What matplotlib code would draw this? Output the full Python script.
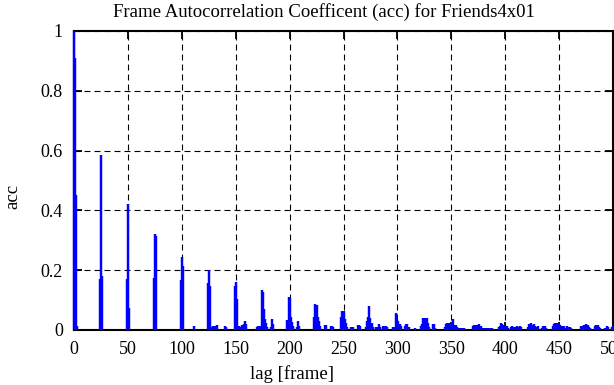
import matplotlib
matplotlib.use("Agg")
import matplotlib.pyplot as plt
import numpy as np

title = "Frame Autocorrelation Coefficent (acc) for Friends4x01"
xlabel = "lag [frame]"
ylabel = "acc"
xticks = [0, 50, 100, 150, 200, 250, 300, 350, 400, 450, 500]
yticks = [0, 0.2, 0.4, 0.6, 0.8, 1.0]
ytick_labels = ["0", "0.2", "0.4", "0.6", "0.8", "1"]

# acc values for lags 0..500, 25 per row
acc = [
    # 0-24
    1.0, 0.91, 0.45, 0.012, 0, 0, 0, 0, 0, 0, 0, 0, 0, 0, 0, 0, 0, 0, 0, 0, 0, 0, 0, 0, 0.17,
    # 25-49
    0.585, 0.18, 0, 0, 0, 0, 0, 0, 0, 0, 0, 0, 0, 0, 0, 0, 0, 0, 0, 0, 0, 0, 0, 0, 0.17,
    # 50-74
    0.42, 0.075, 0, 0, 0, 0, 0, 0, 0, 0, 0, 0, 0, 0, 0, 0, 0, 0, 0, 0, 0, 0, 0, 0, 0.175,
    # 75-99
    0.32, 0.315, 0, 0, 0, 0, 0, 0, 0, 0, 0, 0, 0, 0, 0, 0, 0, 0, 0, 0, 0, 0, 0, 0, 0.167,
    # 100-124
    0.243, 0.214, 0, 0, 0, 0, 0, 0, 0, 0, 0, 0.013, 0, 0, 0, 0, 0, 0, 0, 0, 0, 0, 0, 0, 0.156,
    # 125-149
    0.2, 0.147, 0.005, 0.009, 0.013, 0.009, 0.013, 0.009, 0.017, 0.005, 0, 0, 0, 0, 0, 0.013, 0.01, 0, 0, 0, 0, 0, 0, 0.005, 0.147,
    # 150-174
    0.162, 0.103, 0.009, 0.013, 0.01, 0, 0.017, 0.013, 0.02, 0.031, 0.02, 0, 0, 0, 0, 0, 0, 0, 0, 0.005, 0.01, 0.015, 0.015, 0.015, 0.134,
    # 175-199
    0.128, 0.071, 0.036, 0.025, 0.01, 0, 0, 0, 0.01, 0.036, 0.02, 0, 0, 0, 0, 0, 0, 0, 0, 0, 0, 0, 0, 0.033, 0.111,
    # 200-224
    0.108, 0.045, 0.028, 0.013, 0, 0, 0, 0.01, 0.03, 0.013, 0, 0, 0, 0, 0, 0, 0, 0, 0, 0, 0, 0, 0, 0.045, 0.087,
    # 225-249
    0.085, 0.045, 0.03, 0.013, 0, 0, 0, 0, 0.017, 0.017, 0, 0, 0, 0.013, 0.013, 0.01, 0, 0, 0, 0, 0, 0, 0, 0.045, 0.064,
    # 250-274
    0.062, 0.037, 0.025, 0.009, 0, 0, 0, 0.01, 0.01, 0.01, 0, 0, 0, 0.017, 0.017, 0.012, 0.005, 0, 0, 0, 0, 0.011, 0.03, 0.042, 0.08,
    # 275-299
    0.039, 0.024, 0.011, 0.005, 0, 0.011, 0.011, 0, 0.02, 0.011, 0, 0, 0.013, 0.015, 0.015, 0.01, 0, 0, 0, 0, 0, 0.01, 0.01, 0.011, 0.056,
    # 300-324
    0.033, 0.031, 0.02, 0.013, 0, 0, 0, 0.013, 0.02, 0.02, 0, 0.009, 0, 0, 0, 0, 0.008, 0, 0, 0, 0, 0.005, 0.013, 0.02, 0.039,
    # 325-349
    0.028, 0.039, 0.039, 0.022, 0.009, 0, 0, 0, 0.019, 0.019, 0.006, 0, 0, 0, 0, 0, 0, 0, 0, 0.01, 0.02, 0.025, 0.02, 0.025, 0.02,
    # 350-374
    0.022, 0.025, 0.036, 0.017, 0.017, 0.01, 0.007, 0.007, 0, 0.007, 0.007, 0.007, 0.007, 0.005, 0, 0, 0, 0, 0, 0, 0.013, 0.017, 0.015, 0.017, 0.013,
    # 375-399
    0.017, 0.019, 0.015, 0.013, 0.007, 0, 0.007, 0.007, 0.005, 0.007, 0, 0.007, 0.007, 0.007, 0, 0.005, 0, 0, 0, 0.01, 0.015, 0.022, 0.02, 0.017, 0.013,
    # 400-424
    0.015, 0.01, 0.013, 0.007, 0, 0.01, 0.012, 0.005, 0.01, 0.01, 0, 0.012, 0.01, 0.005, 0.012, 0.01, 0, 0, 0, 0, 0, 0.01, 0.019, 0.015, 0.022,
    # 425-449
    0.018, 0.012, 0.02, 0.015, 0.01, 0.012, 0.005, 0, 0, 0.008, 0.013, 0.012, 0.013, 0.008, 0, 0, 0, 0, 0, 0.013, 0.02, 0.022, 0.017, 0.022, 0.015,
    # 450-474
    0.02, 0.017, 0.013, 0.012, 0.01, 0.012, 0.008, 0.012, 0.01, 0.005, 0.01, 0.008, 0, 0, 0, 0, 0, 0, 0, 0, 0.012, 0.015, 0.013, 0.017, 0.015,
    # 475-499
    0.02, 0.013, 0.017, 0.01, 0.008, 0, 0, 0, 0.013, 0.017, 0.012, 0.017, 0.01, 0.008, 0, 0, 0, 0, 0.008, 0.012, 0.01, 0.005, 0, 0, 0.01,
    # 500
    0.012,
]
lags = np.arange(len(acc))

plt.rcParams['font.family'] = ['Liberation Serif', 'DejaVu Serif']
plt.rcParams['lines.scale_dashes'] = False

W, H = 614, 385
fig = plt.figure(figsize=(W / 100, H / 100), dpi=100)
ax = fig.add_axes([74 / W, 1 - 330 / H, (613 - 74) / W, (330 - 31) / H])

ax.vlines(lags, 0, acc, colors='#0000ff', linewidth=1.75, zorder=5, clip_on=False)

ax.set_xlim(0, 500)
ax.set_ylim(0, 1)
ax.set_xticks(xticks)
ax.set_yticks(yticks)
ax.set_yticklabels(ytick_labels)
ax.grid(True, color='black', linewidth=0.8, linestyle=(0, (4.3, 2.9)), zorder=1)
ax.set_axisbelow(True)
ax.tick_params(direction='in', length=5.5, width=1.3, top=True, right=True,
               labelsize=13, colors='black')
ax.tick_params(axis='x', pad=8)
ax.tick_params(axis='y', pad=8)
for s in ax.spines.values():
    s.set_linewidth(1.5)
    s.set_zorder(4)

fig.text(324 / W, 1 - 12 / H, title, ha='center', va='center', fontsize=13.5)
fig.text(292 / W, 1 - 374 / H, xlabel, ha='center', va='center', fontsize=13.5)
fig.text(13 / W, 1 - 196 / H, ylabel, ha='center', va='center', fontsize=13.5, rotation=90)

fig.savefig('out.png', dpi=100)
